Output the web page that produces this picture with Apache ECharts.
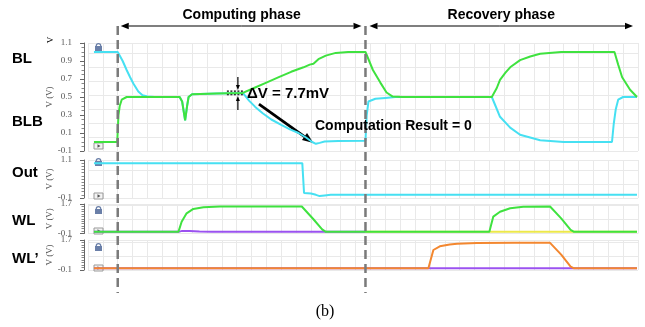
<!DOCTYPE html>
<html>
<head>
<meta charset="utf-8">
<script src="https://cdn.jsdelivr.net/npm/echarts@6/dist/echarts.min.js"></script>
<style>
  html, body { margin: 0; padding: 0; background: #fff; }
  #chart { width: 645px; height: 327px; }
</style>
</head>
<body>
<div id="chart"></div>
<script>
// time axis (arbitrary units, computing phase starts at 0, recovery at 10)
const tMin = -1.2, tMax = 21;
const phaseMarks = [0, 10];
const phaseNames = ['Computing phase', 'Recovery phase'];
const panelNames = ['BL', 'BLB', 'Out', 'WL', 'WL\u2019'];

// waveforms, [t, volts]
const blWave = [[-0.96,1.0],[0,1.0],[0.1,0.95],[0.2,0.9],[0.36,0.8],[0.5,0.72],[0.63,0.65],[0.83,0.56],[1.0,0.52],[1.2,0.505],[1.5,0.5],
  [2.5,0.5],[2.54,0.52],[2.6,0.45],[2.72,0.24],[2.8,0.4],[2.86,0.5],[3.0,0.53],[4.0,0.54],[5.05,0.545],
  [5.3,0.46],[5.55,0.39],[5.85,0.32],[6.2,0.25],[6.6,0.19],[6.95,0.14],[7.3,0.1],[7.6,0.05],[7.85,0.0],[8.0,-0.02],[8.15,-0.01],[8.35,0.005],[8.9,0.01],[10.0,0.015],
  [10.05,0.3],[10.12,0.45],[10.4,0.48],[10.8,0.49],[11.2,0.5],[15.1,0.5],[15.25,0.4],[15.43,0.28],[15.84,0.16],[16.24,0.08],[17.05,0.02],[18.0,0.0],
  [19.95,0.0],[20.02,0.2],[20.1,0.36],[20.2,0.47],[20.4,0.5],[20.96,0.5]];
const blbWave = [[-0.96,0],[-0.02,0],[0.03,0.3],[0.08,0.4],[0.16,0.47],[0.36,0.5],
  [2.5,0.5],[2.54,0.52],[2.6,0.45],[2.72,0.24],[2.8,0.4],[2.86,0.5],[3.0,0.53],[4.0,0.54],[5.05,0.545],
  [5.5,0.6],[6.0,0.66],[6.5,0.72],[7.0,0.78],[7.5,0.83],[7.75,0.86],[7.9,0.87],[8.1,0.92],[8.4,0.96],[8.8,0.99],[9.3,1.0],[10.0,1.0],
  [10.3,0.8],[10.6,0.66],[10.85,0.55],[11.1,0.505],[11.5,0.5],[15.1,0.5],[15.3,0.6],[15.43,0.69],[15.65,0.77],[15.84,0.83],[16.24,0.91],[16.65,0.95],[17.05,0.98],[17.9,1.0],
  [20.05,1.0],[20.2,0.86],[20.36,0.72],[20.68,0.58],[20.96,0.5]];
const outWave = [[-0.96,1.0],[7.45,1.0],[7.52,0.06],[7.8,0.04],[8.0,0.0],[8.15,-0.04],[8.35,-0.02],[8.6,0.0],[20.96,0.0]];
const wlGreen = [[-0.96,0],[-0.05,0],[0.02,0.05],[0.12,0],[2.45,0],[2.58,0.62],[2.78,1.13],[3.05,1.4],[3.46,1.5],[4.13,1.54],[5.5,1.55],[7.43,1.55],
  [7.9,0.77],[8.25,0.15],[8.4,0],[9.97,0],[10.03,0.05],[10.12,0],[15.0,0],[15.16,0.93],[15.43,1.23],[15.84,1.44],[16.37,1.53],[17.45,1.55],
  [17.9,0.82],[18.28,0.12],[18.42,0],[19.95,0],[20.02,0.05],[20.1,0],[20.96,0]];
const wlPurple = [[-0.96,0],[2.45,0],[2.6,0.06],[2.9,0.05],[3.3,0.02],[3.8,0.01],[10,0]];
const wlYellow = [[10,0],[20.96,0]];
const wlpOrange = [[-0.96,0],[-0.05,0],[0.02,0.04],[0.12,0],[12.54,0],[12.74,1.1],[13.0,1.32],[13.4,1.43],[13.7,1.48],[14.5,1.52],[16,1.53],[17.45,1.53],
  [17.9,0.82],[18.28,0.1],[18.42,0],[19.95,0],[20.02,0.05],[20.1,0],[20.96,0]];
const wlpPurple = [[-0.96,0],[20.96,0]];

const cyan = '#46e0f2', green = '#3fe23f', purple = '#9b52f0', yellow = '#ede84a', orange = '#f3872f';
const serif = '"Liberation Serif", "DejaVu Serif", serif';
const sans = '"Liberation Sans", Arial, sans-serif';

const panels = [
  { top: 43, height: 108, min: -0.1, max: 1.1, interval: 0.2, minor: 4, grid: 0.155, lockY: 47, playY: 146 },
  { top: 160, height: 38, min: -0.1, max: 1.1, interval: 1.2, minor: 12, grid: 0.44, lockY: 162, playY: 196 },
  { top: 204, height: 29.5, min: -0.1, max: 1.7, interval: 1.8, minor: 12, grid: 0.85, lockY: 210, playY: 231 },
  { top: 240, height: 30, min: -0.1, max: 1.7, interval: 1.8, minor: 12, grid: 0.84, lockY: 247, playY: 268 }
];

function wave(data, color, gi, z) {
  return {
    type: 'line', xAxisIndex: gi, yAxisIndex: gi, data: data, showSymbol: false, z: z,
    lineStyle: { color: color, width: 2 }, itemStyle: { color: color }
  };
}

const chart = echarts.init(document.getElementById('chart'));

chart.setOption({
  animation: false,
  backgroundColor: '#fff',
  grid: panels.map(p => ({ left: 88, right: 7, top: p.top, height: p.height })),
  xAxis: panels.map((p, i) => ({
    type: 'value', gridIndex: i, min: tMin, max: tMax, interval: 0.6,
    axisLine: { show: false, onZero: false }, axisTick: { show: false }, axisLabel: { show: false },
    splitLine: { show: true, lineStyle: { color: '#e9e9e9' } }
  })),
  yAxis: panels.map((p, i) => ({
    type: 'value', gridIndex: i, position: 'left', offset: 4,
    min: p.min, max: p.max, interval: p.interval,
    name: 'V (V)', nameLocation: 'middle', nameGap: 30, nameRotate: 90, nameMoveOverlap: false,
    nameTextStyle: { fontFamily: serif, fontSize: 9, color: '#555' },
    axisLine: { show: true, onZero: false, lineStyle: { color: '#666' } },
    axisTick: { show: true, inside: false, length: 4, lineStyle: { color: '#666' } },
    minorTick: { show: true, splitNumber: p.minor, length: 2.5, lineStyle: { color: '#888' } },
    axisLabel: { margin: 12, fontFamily: serif, fontSize: 9, color: '#555',
      formatter: v => (Math.round(v * 10) / 10).toFixed(1) },
    splitLine: { show: false }
  })).concat(panels.map((p, i) => ({
    type: 'value', gridIndex: i, position: 'left', min: p.min, max: p.max, interval: p.grid,
    axisLine: { show: false, onZero: false }, axisTick: { show: false }, axisLabel: { show: false },
    splitLine: { show: true, lineStyle: { color: '#e9e9e9' } }
  }))),
  series: [
    wave(blWave, cyan, 0, 2),
    wave(blbWave, green, 0, 3),
    wave(outWave, cyan, 1, 2),
    wave(wlPurple, purple, 2, 2),
    wave(wlYellow, yellow, 2, 2),
    wave(wlGreen, green, 2, 3),
    wave(wlpPurple, purple, 3, 2),
    wave(wlpOrange, orange, 3, 3)
  ]
});

function arrow(x1, y1, x2, y2, w, head) {
  const a = Math.atan2(y2 - y1, x2 - x1);
  const bx = x2 - head * Math.cos(a), by = y2 - head * Math.sin(a);
  const nx = -Math.sin(a) * head * 0.4, ny = Math.cos(a) * head * 0.4;
  return [
    { type: 'line', shape: { x1: x1, y1: y1, x2: bx, y2: by }, style: { stroke: '#000', lineWidth: w } },
    { type: 'polygon', shape: { points: [[x2, y2], [bx + nx, by + ny], [bx - nx, by - ny]] }, style: { fill: '#000' } }
  ];
}
function label(text, x, y, font, align, rot) {
  return { type: 'text', x: x, y: y, rotation: rot || 0, z: 10,
    style: { text: text, font: font, fill: '#000', textAlign: align || 'left', textVerticalAlign: 'middle',
      align: align || 'left', verticalAlign: 'middle' } };
}

const px = t => chart.convertToPixel({ xAxisIndex: 0 }, t);
const py = (i, v) => chart.convertToPixel({ yAxisIndex: i }, v);

let g = [];
// dashed phase boundaries
phaseMarks.forEach(t => {
  const x = px(t);
  g.push({ type: 'line', z: 5, shape: { x1: x, y1: 26, x2: x, y2: 293 },
    style: { stroke: '#7a7a7a', lineWidth: 2.5, lineDash: [9, 5] } });
});
// phase arrows and titles
const x0 = px(phaseMarks[0]), x1 = px(phaseMarks[1]), xEnd = 633;
const m0 = (x0 + x1) / 2, m1 = (x1 + xEnd) / 2;
g = g.concat(arrow(m0, 26, x0 + 3, 26, 1.2, 8), arrow(m0, 26, x1 - 4, 26, 1.2, 8));
g = g.concat(arrow(m1, 26, x1 + 4, 26, 1.2, 8), arrow(m1, 26, xEnd, 26, 1.2, 8));
g.push(label(phaseNames[0], m0, 15, 'bold 14px ' + sans, 'center'));
g.push(label(phaseNames[1], m1 + 2, 15, 'bold 14px ' + sans, 'center'));

// row names
const nameY = [59, 122, 173, 221, 259];
panelNames.forEach((n, i) => g.push(label(n, 12, nameY[i], 'bold 15px ' + sans, 'left')));

// little lock / play icons of the waveform viewer
panels.forEach(p => {
  g.push({ type: 'arc', shape: { cx: 98.5, cy: p.lockY - 1, r: 2.3, startAngle: Math.PI, endAngle: 2 * Math.PI },
    style: { stroke: '#6a7fa8', lineWidth: 1.2, fill: null } });
  g.push({ type: 'rect', shape: { x: 95, y: p.lockY - 1, width: 7, height: 5 }, style: { fill: '#6a7fa8' } });
  g.push({ type: 'rect', shape: { x: 94, y: p.playY - 3, width: 9, height: 6 }, style: { fill: '#f4f4f4', stroke: '#999', lineWidth: 1 } });
  g.push({ type: 'polygon', shape: { points: [[97.5, p.playY - 1.7], [97.5, p.playY + 1.7], [100.5, p.playY]] }, style: { fill: '#555' } });
});
g.push(label('V', 51, 40, '9px ' + serif, 'center', Math.PI / 2));

// delta V marker
const sx = px(4.85), sy = py(0, 0.545);
g.push({ type: 'line', z: 6, shape: { x1: sx - 11, y1: sy - 1.8, x2: sx + 6, y2: sy - 1.8 }, style: { stroke: '#000', lineWidth: 1.2, lineDash: [2, 1.5] } });
g.push({ type: 'line', z: 6, shape: { x1: sx - 11, y1: sy + 1.8, x2: sx + 6, y2: sy + 1.8 }, style: { stroke: '#000', lineWidth: 1.2, lineDash: [2, 1.5] } });
g = g.concat(arrow(sx, sy - 16, sx, sy - 3, 1.2, 5), arrow(sx, sy + 17, sx, sy + 3, 1.2, 5));
g.push(label('\u0394V = 7.7mV', 247, 94, 'bold 15px ' + sans, 'left'));
g = g.concat(arrow(px(5.7), py(0, 0.42), px(7.9), py(0, -0.01), 2.8, 11));
g.push(label('Computation Result = 0', 315, 126, 'bold 14px ' + sans, 'left'));
g.push(label('(b)', 325, 312, '16px ' + serif, 'center'));

chart.setOption({ graphic: g });
</script>
</body>
</html>
